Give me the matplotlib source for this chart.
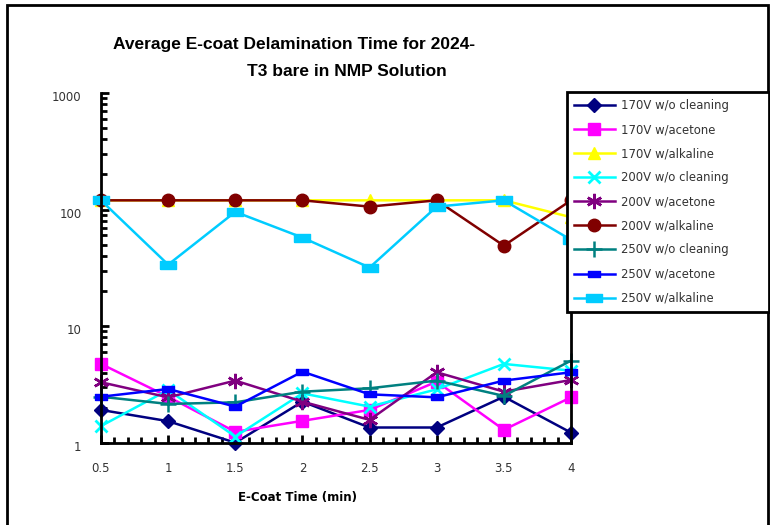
import matplotlib
matplotlib.use("Agg")
import matplotlib.pyplot as plt
from matplotlib.patches import Rectangle
from matplotlib.ticker import LogLocator, FixedLocator, MultipleLocator, NullFormatter
from matplotlib.transforms import ScaledTranslation

# Coating time (min)
times = [0.5, 1, 1.5, 2, 2.5, 3, 3.5, 4]
x_tick_labels = ["0.5", "1", "1.5", "2", "2.5", "3", "3.5", "4"]
y_ticks = [1, 10, 100, 1000]
y_tick_labels = ["1", "10", "100", "1000"]

# Average delamination time for each voltage / cleaning condition
v170_none = [1.91, 1.53, 1.0, 2.25, 1.35, 1.35, 2.48, 1.22]
v170_acetone = [4.74, 2.48, 1.24, 1.54, 1.91, 3.34, 1.29, 2.45]
v170_alkaline = [120, 120, 120, 120, 120, 120, 120, 86]
v200_none = [1.39, 2.83, 1.13, 2.65, 2.04, 2.87, 4.74, 4.15]
v200_acetone = [3.30, 2.45, 3.41, 2.25, 1.57, 4.02, 2.74, 3.45]
v200_alkaline = [120, 120, 120, 120, 106, 120, 49, 120]
v250_none = [2.48, 2.15, 2.22, 2.74, 2.93, 3.41, 2.52, 5.06]
v250_acetone = [2.48, 2.89, 2.04, 4.07, 2.60, 2.45, 3.41, 4.02]
v250_alkaline = [120, 33.7, 95.6, 57.5, 31.8, 106, 120, 55]

labels = ["170V w/o cleaning", "170V w/acetone", "170V w/alkaline",
          "200V w/o cleaning", "200V w/acetone", "200V w/alkaline",
          "250V w/o cleaning", "250V w/acetone", "250V w/alkaline"]
series = [v170_none, v170_acetone, v170_alkaline,
          v200_none, v200_acetone, v200_alkaline,
          v250_none, v250_acetone, v250_alkaline]

wide_rect = [(-1, -0.5), (1, -0.5), (1, 0.5), (-1, 0.5), (-1, -0.5)]
styles = [
    dict(color="#000080", marker="D", ms=7.5),
    dict(color="#FF00FF", marker="s", ms=9),
    dict(color="#FFFF00", marker="^", ms=9),
    dict(color="#00FFFF", marker="x", ms=9, mew=2),
    dict(color="#800080", marker=(6, 2, 0), ms=11, mew=1.8),
    dict(color="#800000", marker="o", ms=9),
    dict(color="#008080", marker="+", ms=12, mew=1.8),
    dict(color="#0000FF", marker=wide_rect, ms=8),
    dict(color="#00CCFF", marker=wide_rect, ms=12),
]

W, H = 770, 525
fig = plt.figure(figsize=(W / 100, H / 100), dpi=100)

# plot area in pixel coordinates
x0, x1 = 101, 571
ytop, ybot = 93, 442.7
ax = fig.add_axes([x0 / W, 1 - ybot / H, (x1 - x0) / W, (ybot - ytop) / H])

lines = []
for vals, lab, st in zip(series, labels, styles):
    st = dict(st)
    col = st.pop("color")
    ln, = ax.plot(times, vals, color=col, lw=1.8, label=lab,
                  markerfacecolor=col, markeredgecolor=col, clip_on=False, **st)
    lines.append(ln)

ax.set_yscale("log")
ax.set_ylim(1, 1000)
ax.set_xlim(0.5, 4)
ax.xaxis.set_major_locator(FixedLocator(times))
ax.xaxis.set_minor_locator(MultipleLocator(0.1))
ax.set_xticklabels(x_tick_labels)
ax.yaxis.set_major_locator(FixedLocator(y_ticks))
ax.yaxis.set_minor_locator(LogLocator(base=10, subs=range(2, 10)))
ax.yaxis.set_minor_formatter(NullFormatter())
ax.set_yticklabels(y_tick_labels)

ax.spines["top"].set_visible(False)
for s in ("left", "bottom", "right"):
    ax.spines[s].set_linewidth(2)
    ax.spines[s].set_color("black")

ax.tick_params(axis="both", which="major", direction="in", length=6, width=2,
               labelsize=8.5, labelcolor="#333333")
ax.tick_params(axis="both", which="minor", direction="in", length=4, width=2)
ax.tick_params(axis="y", which="both", right=False, pad=14)
ax.tick_params(axis="x", which="both", top=False, pad=14)

# y labels sit slightly below their ticks
shift = ScaledTranslation(0, -3 / 100, fig.dpi_scale_trans)
for lbl in ax.get_yticklabels():
    lbl.set_transform(lbl.get_transform() + shift)

# title and axis label
title_font = dict(family=["Liberation Sans", "DejaVu Sans"], weight="bold",
                  fontsize=12.5)
fig.text(294 / W, 1 - 44 / H, "Average E-coat Delamination Time for 2024-",
         ha="center", va="center", **title_font)
fig.text(347 / W, 1 - 72 / H, "T3 bare in NMP Solution",
         ha="center", va="center", **title_font)
fig.text(298 / W, 1 - 498 / H, "E-Coat Time (min)", ha="center", va="center",
         fontsize=8.5, weight="bold", family=["DejaVu Sans"])

# legend box on the right
lx0, lx1, ly0, ly1 = 567, 769, 92, 313
leg = fig.legend(lines, labels, loc="upper left",
                 bbox_to_anchor=(lx0 / W, 1 - ly1 / H, (lx1 - lx0) / W, (ly1 - ly0) / H),
                 mode="expand", fontsize=8.4, frameon=True, fancybox=False,
                 edgecolor="black", framealpha=1, borderaxespad=0,
                 handlelength=3.5, handletextpad=0.5, labelspacing=0.95,
                 borderpad=0.6, markerscale=1.0)
leg.get_frame().set_linewidth(2)
for t in leg.get_texts():
    t.set_color("#333333")

# outer frame
fig.patches.append(Rectangle((7 / W, -0.02), (768 - 7) / W, 1.02 - 5 / H,
                             transform=fig.transFigure, fill=False,
                             edgecolor="black", linewidth=2))

fig.savefig("out.png", dpi=100)
